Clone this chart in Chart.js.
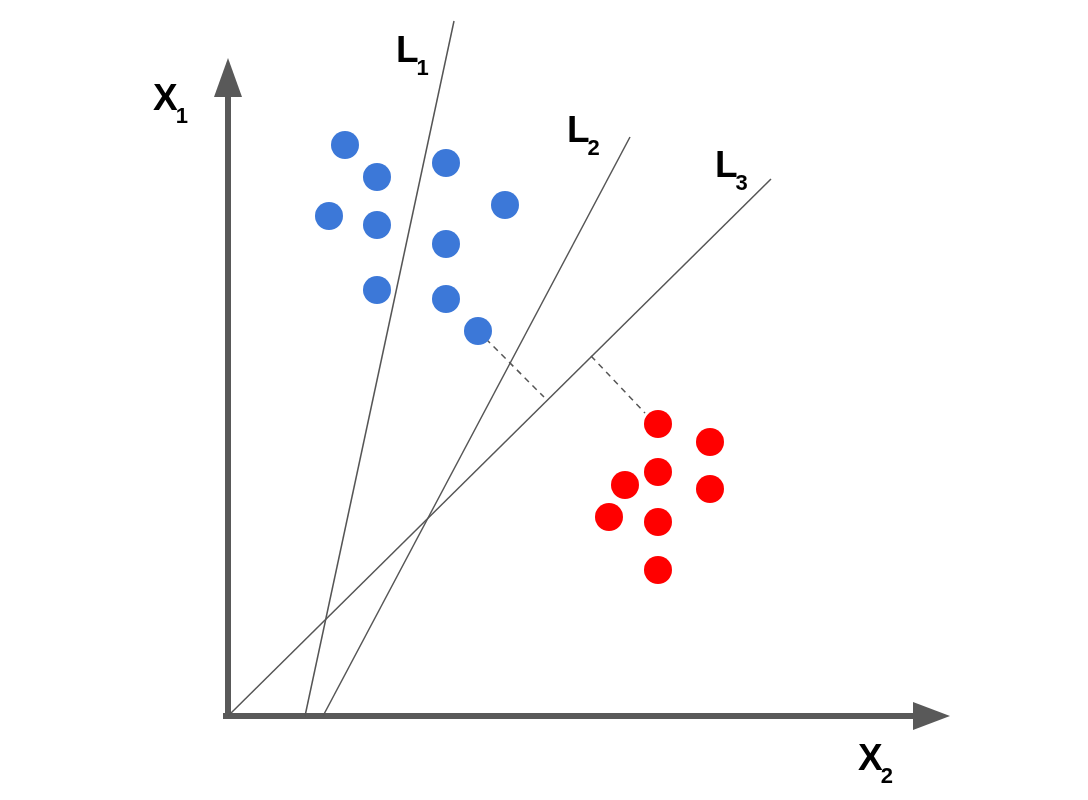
<!DOCTYPE html>
<html>
<head>
<meta charset="utf-8">
<script src="https://cdn.jsdelivr.net/npm/chart.js@4.4.1/dist/chart.umd.min.js"></script>
<style>
	html, body { margin: 0; padding: 0; background: #fff; }
	#wrap { width: 1088px; height: 800px; position: relative; }
</style>
</head>
<body>
<div id="wrap"><canvas id="svm-chart"></canvas></div>
<script>
// class A (blue) and class B (red) samples, origin at the axis corner
const blueX = [117, 149, 101, 149, 149, 218, 277, 218, 218, 250];
const blueY = [571, 539, 500, 491, 426, 553, 511, 472, 417, 385];
const redX = [430, 482, 430, 397, 482, 381, 430, 430];
const redY = [292, 274, 244, 231, 227, 199, 194, 146];

// candidate separating lines L1..L3 (start / end)
const lineNames = ['L1', 'L2', 'L3'];
const lineX0 = [77, 95, 0];
const lineY0 = [0, 0, 0];
const lineX1 = [226, 402, 543];
const lineY1 = [695, 579, 537];

// margin segments (dashed)
const marginX0 = [250, 363];
const marginY0 = [385, 360];
const marginX1 = [316, 417];
const marginY1 = [319, 303];

// axis labels & line labels: main letter, subscript
const labelMain = ['X', 'X', 'L', 'L', 'L'];
const labelSub = ['1', '2', '1', '2', '3'];
const labelAtX = [-75, 630, 168, 339, 487];
const labelAtY = [606, -54, 654, 574, 539];

const AXIS = '#595959';

const toPoints = (xs, ys) => xs.map((x, i) => ({ x: x, y: ys[i] }));

const datasets = [];

datasets.push({
	label: 'blue',
	data: toPoints(blueX, blueY),
	backgroundColor: '#3c78d8',
	borderWidth: 0,
	pointRadius: 14,
	order: 0
});
datasets.push({
	label: 'red',
	data: toPoints(redX, redY),
	backgroundColor: '#ff0000',
	borderWidth: 0,
	pointRadius: 14,
	order: 0
});

lineNames.forEach((name, i) => {
	datasets.push({
		label: name,
		data: [{ x: lineX0[i], y: lineY0[i] }, { x: lineX1[i], y: lineY1[i] }],
		showLine: true,
		borderColor: '#555',
		borderWidth: 1.5,
		pointRadius: 0,
		order: 1
	});
});

marginX0.forEach((x, i) => {
	datasets.push({
		label: 'margin' + i,
		data: [{ x: x, y: marginY0[i] }, { x: marginX1[i], y: marginY1[i] }],
		showLine: true,
		borderColor: '#555',
		borderWidth: 1.5,
		borderDash: [6, 5],
		pointRadius: 0,
		order: 1
	});
});

// axes shafts
datasets.push({
	label: 'x-axis',
	data: [{ x: -5, y: 0 }, { x: 686, y: 0 }],
	showLine: true,
	borderColor: AXIS,
	borderWidth: 6,
	pointRadius: 0,
	order: 2
});
datasets.push({
	label: 'y-axis',
	data: [{ x: 0, y: -3 }, { x: 0, y: 620 }],
	showLine: true,
	borderColor: AXIS,
	borderWidth: 6,
	pointRadius: 0,
	order: 2
});

const decor = {
	id: 'decor',
	afterDatasetsDraw(chart) {
		const ctx = chart.ctx;
		const sx = chart.scales.x, sy = chart.scales.y;
		const px = v => sx.getPixelForValue(v);
		const py = v => sy.getPixelForValue(v);

		// arrow heads
		ctx.save();
		ctx.fillStyle = AXIS;
		ctx.beginPath();
		ctx.moveTo(px(0), py(658));
		ctx.lineTo(px(-14), py(619));
		ctx.lineTo(px(14), py(619));
		ctx.closePath();
		ctx.fill();
		ctx.beginPath();
		ctx.moveTo(px(722), py(0));
		ctx.lineTo(px(685), py(14));
		ctx.lineTo(px(685), py(-14));
		ctx.closePath();
		ctx.fill();

		// labels
		ctx.fillStyle = '#000';
		ctx.textBaseline = 'alphabetic';
		ctx.textAlign = 'left';
		labelMain.forEach((t, i) => {
			const x = px(labelAtX[i]), y = py(labelAtY[i]);
			ctx.font = 'bold 37px "Liberation Sans", Arial, sans-serif';
			ctx.fillText(t, x, y);
			const w = ctx.measureText(t).width;
			ctx.font = 'bold 22px "Liberation Sans", Arial, sans-serif';
			ctx.fillText(labelSub[i], x + w - 2, y + 13);
		});
		ctx.restore();
	}
};

new Chart(document.getElementById('svm-chart'), {
	type: 'scatter',
	data: { datasets: datasets },
	options: {
		responsive: true,
		maintainAspectRatio: false,
		animation: false,
		layout: { padding: 0, autoPadding: false },
		scales: {
			x: { type: 'linear', min: -228, max: 860, display: false },
			y: { type: 'linear', min: -84, max: 716, display: false }
		},
		plugins: {
			legend: { display: false },
			tooltip: { enabled: false }
		}
	},
	plugins: [decor]
});
</script>
</body>
</html>
